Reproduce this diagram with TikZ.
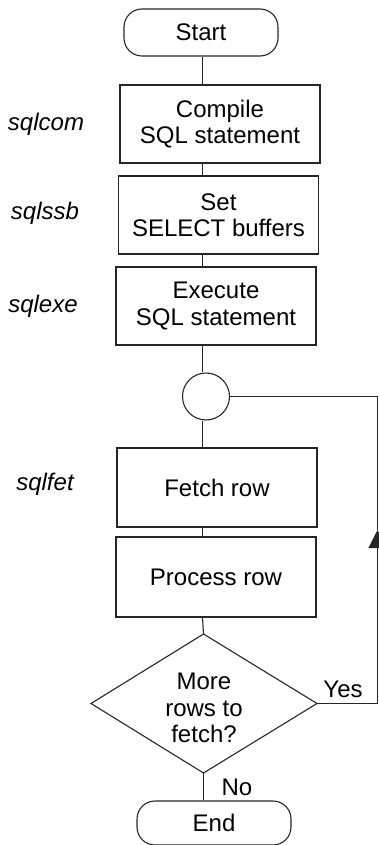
\documentclass[tikz,border=0pt]{standalone}
\usepackage{fontspec}
\setmainfont{Liberation Sans}
\usetikzlibrary{arrows.meta}
\begin{document}
\begin{tikzpicture}[x=1pt,y=-1pt,
  every node/.style={font=\fontsize{24}{26.5}\selectfont, align=center, inner sep=0pt},
  line/.style={draw=black!85, line width=1.1pt},
  terminal/.style={line, rectangle, rounded corners=18pt, minimum width=154pt},
  stepbox/.style={line, rectangle, minimum width=200pt, minimum height=79pt},
  junction/.style={line, circle, minimum size=47pt},
  callname/.style={font=\fontsize{24}{26}\itshape\selectfont},
  branch/.style={font=\fontsize{24}{26}\selectfont}
]
\useasboundingbox (0,0) rectangle (379,845);

% main column of the flowchart
\node[terminal, minimum height=47pt] (start) at (201,32.5) {Start};
\node[stepbox, minimum height=78pt] (compile) at (220,124) {Compile\\SQL statement};
\node[stepbox, minimum height=78pt] (ssb) at (218.5,215) {Set\\SELECT buffers};
\node[stepbox, minimum height=78pt] (exe) at (216,306) {Execute\\SQL statement};
\node[junction] (circ) at (206,396.5) {};
\node[stepbox] (fetch) at (217,487.5) {Fetch row};
\node[stepbox, minimum height=80pt] (proc) at (216,577) {Process row};

% decision diamond, drawn through its four corners
\path[line] (91,703.5) coordinate (dl) -- (203.5,634) coordinate (dt)
  -- (317,703.5) coordinate (dr) -- (203.5,773) coordinate (db) -- cycle;
\node (decq) at (204,708) {More\\rows to\\fetch?};

\node[terminal, minimum height=44pt] (end) at (214,823) {End};

% library calls beside the steps
\node[callname] (lcom) at (46,124) {sqlcom};
\node[callname] (lssb) at (45,213) {sqlssb};
\node[callname] (lexe) at (43,306) {sqlexe};
\node[callname] (lfet) at (45,484) {sqlfet};

% spine and loop rail
\coordinate (spine) at (202.5,0);
\coordinate (rail) at (377.5,0);
\coordinate (tip) at (377.5,530);

\draw[line] (start.south -| spine) -- (compile.north -| spine);
\draw[line] (compile.south -| spine) -- (ssb.north -| spine);
\draw[line] (ssb.south -| spine) -- (exe.north -| spine);
\draw[line] (exe.south -| spine) -- (circ.north -| spine);
\draw[line] (circ.south -| spine) -- (fetch.north -| spine);
\draw[line] (fetch.south -| spine) -- (proc.north -| spine);
\draw[line] (proc.south -| spine) -- (dt);
\draw[line] (db) -- (end.north -| db);

% loop back to the junction
\draw[line, -{Triangle[width=18pt,length=18pt]}] (dr) -- (dr -| rail) -- (tip);
\draw[line] (tip) -- (circ.east -| rail) -- (circ.east);

\node[branch] (yes) at (343,689) {Yes};
\node[branch] (no) at (237,787) {No};
\end{tikzpicture}
\end{document}
